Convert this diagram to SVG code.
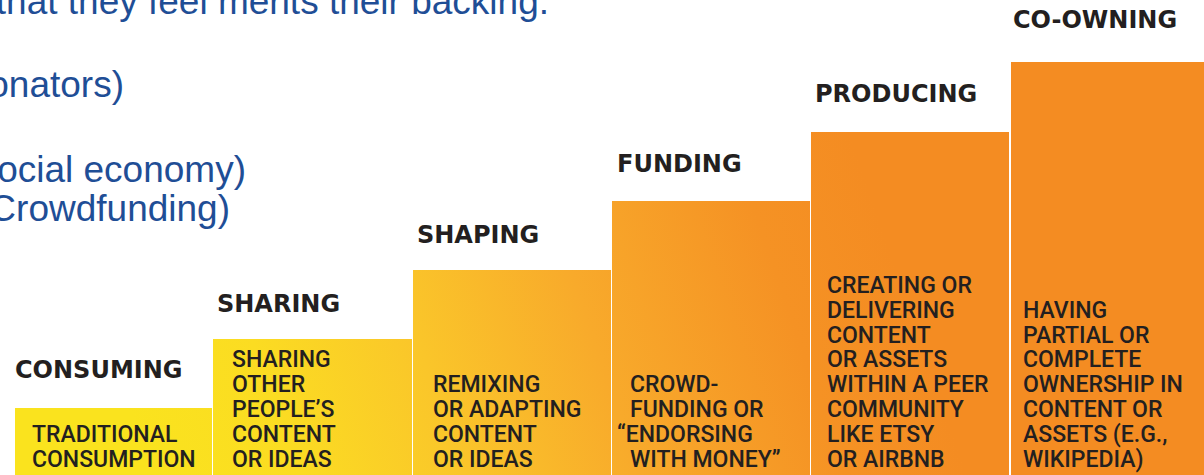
<svg xmlns="http://www.w3.org/2000/svg" width="1204" height="475" viewBox="0 0 1204 475">
<defs>
<linearGradient id="stair" gradientUnits="userSpaceOnUse" x1="150" y1="470" x2="880" y2="220">
<stop offset="0" stop-color="#FAE31E"/>
<stop offset="0.18" stop-color="#FBDC22"/>
<stop offset="0.38" stop-color="#FAC62A"/>
<stop offset="0.6" stop-color="#F8AA2B"/>
<stop offset="0.85" stop-color="#F59224"/>
<stop offset="1" stop-color="#F48C22"/>
</linearGradient>
<style>
.slide{font-family:"Liberation Sans",Arial,sans-serif;font-size:37px;fill:#1F4E96;text-anchor:end}
.step{fill:url(#stair)}
.head{font-family:"DejaVu Sans",sans-serif;font-weight:bold;font-size:24px;fill:#231F20}
.body{font-family:Roboto,"Liberation Sans",sans-serif;font-weight:500;font-size:23px;fill:#231F20}
</style>
</defs>
<rect width="1204" height="475" fill="#FFFFFF"/>
<g id="slide-text">
<text class="slide" x="549" y="14">that they feel merits their backing.</text>
<text class="slide" x="124" y="97">onators)</text>
<text class="slide" x="246" y="182">ocial economy)</text>
<text class="slide" x="230" y="221">Crowdfunding)</text>
</g>
<g id="consuming">
<rect class="step" x="15" y="408" width="197" height="67"/>
<text class="head" x="15" y="378">CONSUMING</text>
<text class="body" x="32"><tspan x="32" y="441.7">TRADITIONAL</tspan><tspan x="32" y="466.5">CONSUMPTION</tspan></text>
</g>
<g id="sharing">
<rect class="step" x="213" y="339" width="199" height="136"/>
<text class="head" x="217" y="312">SHARING</text>
<text class="body"><tspan x="232" y="367.3">SHARING</tspan><tspan x="232" y="392.1">OTHER</tspan><tspan x="232" y="416.9">PEOPLE’S</tspan><tspan x="232" y="441.7">CONTENT</tspan><tspan x="232" y="466.5">OR IDEAS</tspan></text>
</g>
<g id="shaping">
<rect class="step" x="413" y="270" width="198" height="205"/>
<text class="head" x="417" y="243">SHAPING</text>
<text class="body"><tspan x="433" y="392.1">REMIXING</tspan><tspan x="433" y="416.9">OR ADAPTING</tspan><tspan x="433" y="441.7">CONTENT</tspan><tspan x="433" y="466.5">OR IDEAS</tspan></text>
</g>
<g id="funding">
<rect class="step" x="612" y="201" width="198" height="274"/>
<text class="head" x="617" y="172">FUNDING</text>
<text class="body"><tspan x="630" y="392.1">CROWD-</tspan><tspan x="630" y="416.9">FUNDING OR</tspan><tspan x="617" y="441.7">“ENDORSING</tspan><tspan x="630" y="466.5">WITH MONEY”</tspan></text>
</g>
<g id="producing">
<rect class="step" x="811" y="132" width="198" height="343"/>
<text class="head" x="815" y="102">PRODUCING</text>
<text class="body"><tspan x="827" y="292.9">CREATING OR</tspan><tspan x="827" y="317.7">DELIVERING</tspan><tspan x="827" y="342.5">CONTENT</tspan><tspan x="827" y="367.3">OR ASSETS</tspan><tspan x="827" y="392.1">WITHIN A PEER</tspan><tspan x="827" y="416.9">COMMUNITY</tspan><tspan x="827" y="441.7">LIKE ETSY</tspan><tspan x="827" y="466.5">OR AIRBNB</tspan></text>
</g>
<g id="co-owning">
<rect class="step" x="1011" y="62" width="193" height="413"/>
<text class="head" x="1013" y="28">CO-OWNING</text>
<text class="body"><tspan x="1023" y="317.7">HAVING</tspan><tspan x="1023" y="342.5">PARTIAL OR</tspan><tspan x="1023" y="367.3">COMPLETE</tspan><tspan x="1023" y="392.1">OWNERSHIP IN</tspan><tspan x="1023" y="416.9">CONTENT OR</tspan><tspan x="1023" y="441.7">ASSETS (E.G.,</tspan><tspan x="1023" y="466.5">WIKIPEDIA)</tspan></text>
</g>
</svg>
